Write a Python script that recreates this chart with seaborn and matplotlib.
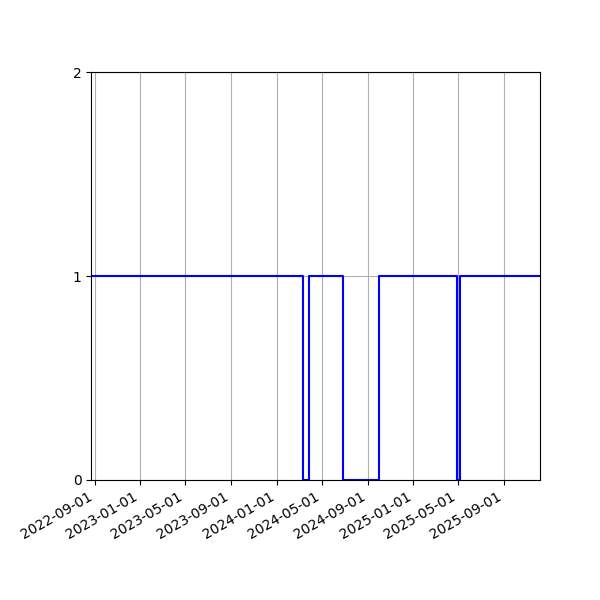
import matplotlib
matplotlib.use("Agg")
import matplotlib.pyplot as plt
import matplotlib.dates as mdates
import seaborn as sns
import pandas as pd

# status changes (value holds until next date)
dates = ["2022-08-23", "2024-03-12", "2024-03-28", "2024-06-26",
         "2024-10-01", "2025-04-27", "2025-05-07", "2025-12-06"]
status = [1, 0, 1, 0, 1, 0, 1, 1]

df = pd.DataFrame({"date": pd.to_datetime(dates), "status": status})

fig, ax = plt.subplots(figsize=(6, 6), dpi=100)
sns.lineplot(data=df, x="date", y="status", drawstyle="steps-post",
             color="blue", linewidth=1.5, estimator=None, ax=ax)

ax.set_xlim(df["date"].min(), df["date"].max())
ax.set_ylim(0, 2)
ax.set_yticks([0, 1, 2])
ax.xaxis.set_major_locator(mdates.MonthLocator(bymonth=[1, 5, 9]))
ax.xaxis.set_major_formatter(mdates.DateFormatter("%Y-%m-%d"))
ax.grid(True, color="#b0b0b0", linewidth=0.8)
ax.set_axisbelow(True)
ax.set_xlabel("")
ax.set_ylabel("")
fig.autofmt_xdate()
fig.subplots_adjust(left=0.152, right=0.9, top=0.88, bottom=0.2)

fig.savefig("out.png", dpi=100)
